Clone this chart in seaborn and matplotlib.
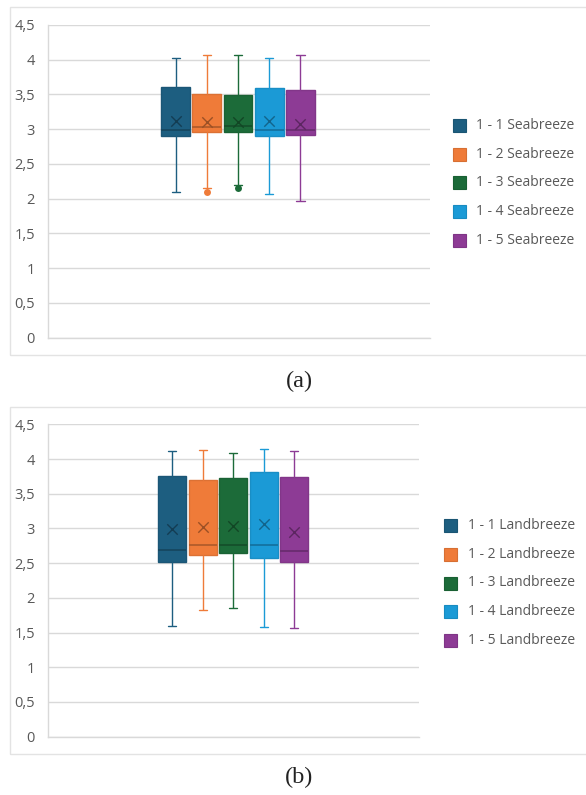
import numpy as np
import pandas as pd
import matplotlib
matplotlib.use("Agg")
import matplotlib.pyplot as plt
from matplotlib.patches import Rectangle
from matplotlib.colors import to_rgb
import seaborn as sns

# Series labels for the two panels
sea_names = ["1 - 1 Seabreeze", "1 - 2 Seabreeze", "1 - 3 Seabreeze",
             "1 - 4 Seabreeze", "1 - 5 Seabreeze"]
land_names = ["1 - 1 Landbreeze", "1 - 2 Landbreeze", "1 - 3 Landbreeze",
              "1 - 4 Landbreeze", "1 - 5 Landbreeze"]
series_colors = ["#1d5e80", "#ef7b39", "#1c6b39", "#1b9ad6", "#8d3b95"]

# Seabreeze summary statistics
sea_low = [2.09, 2.16, 2.20, 2.07, 1.97]
sea_q1 = [2.90, 2.96, 2.96, 2.90, 2.91]
sea_median = [2.99, 3.03, 3.04, 2.99, 2.99]
sea_q3 = [3.61, 3.51, 3.49, 3.60, 3.57]
sea_high = [4.02, 4.07, 4.07, 4.02, 4.07]
sea_mean = [3.12, 3.10, 3.10, 3.12, 3.08]
sea_outlier_series = ["1 - 2 Seabreeze", "1 - 3 Seabreeze"]
sea_outliers = [2.10, 2.15]

# Landbreeze summary statistics
land_low = [1.59, 1.83, 1.85, 1.58, 1.56]
land_q1 = [2.52, 2.62, 2.64, 2.57, 2.52]
land_median = [2.69, 2.76, 2.76, 2.76, 2.68]
land_q3 = [3.76, 3.70, 3.73, 3.81, 3.74]
land_high = [4.11, 4.13, 4.08, 4.15, 4.12]
land_mean = [2.99, 3.02, 3.04, 3.07, 2.95]
land_outlier_series = []
land_outliers = []

y_ticks = [0, 0.5, 1, 1.5, 2, 2.5, 3, 3.5, 4, 4.5]
y_tick_labels = ["0", "0,5", "1", "1,5", "2", "2,5", "3", "3,5", "4", "4,5"]

sns.set_style("white")
plt.rcParams["font.family"] = ["Open Sans", "DejaVu Sans"]

W, H = 586, 795
fig = plt.figure(figsize=(W / 100, H / 100), dpi=100)
fig.patch.set_facecolor("white")

GRID = "#d9d9d9"
TEXT = "#595959"


def shade(c, k):
    r, g, b = to_rgb(c)
    return (r * k, g * k, b * k)


def px_axes(left, right, top, bottom):
    return fig.add_axes([left / W, 1 - bottom / H, (right - left) / W, (bottom - top) / H])


def draw_panel(ax, names, low, q1, med, q3, high, mean, out_names, out_vals, xlim):
    five = np.column_stack([low, q1, med, q3, high]).ravel()
    df = pd.DataFrame({"series": np.repeat(names, 5), "value": five})
    for name, c in zip(names, series_colors):
        sub = df[df["series"] == name]
        sns.boxplot(data=sub, x="series", y="value", order=names, color=c,
                    saturation=1, width=0.92, whis=(0, 100), linewidth=1.0,
                    linecolor=c, showfliers=False, ax=ax,
                    boxprops=dict(edgecolor=shade(c, 0.92)),
                    medianprops=dict(color=shade(c, 0.75), linewidth=1.3),
                    capwidths=0.26)
    dark = {n: shade(c, 0.65) for n, c in zip(names, series_colors)}
    sns.stripplot(x=names, y=mean, hue=names, palette=dark, order=names,
                  jitter=False, marker="x", size=7.5, linewidth=1.0,
                  legend=False, ax=ax, zorder=5)
    if out_vals:
        pal = dict(zip(names, series_colors))
        sns.stripplot(x=out_names, y=out_vals, hue=out_names, palette=pal,
                      order=names, jitter=False, size=5, linewidth=0,
                      legend=False, ax=ax, zorder=5)
    ax.set_xlim(*xlim)
    ax.set_ylim(0, 4.5)
    ax.set_yticks(y_ticks)
    ax.set_yticklabels(y_tick_labels)
    ax.set_xticks([])
    ax.set_xlabel("")
    ax.set_ylabel("")
    ax.set_axisbelow(True)
    ax.yaxis.grid(True, color=GRID, linewidth=1.0)
    for s in ["top", "right"]:
        ax.spines[s].set_visible(False)
    for s in ["left", "bottom"]:
        ax.spines[s].set_color(GRID)
        ax.spines[s].set_linewidth(1.0)
    ax.tick_params(axis="y", direction="out", length=4.5, width=1.0,
                   color=GRID, labelcolor=TEXT, labelsize=10.5, pad=5)
    ax.set_facecolor("white")


def draw_legend(names, sq_x, txt_x, centers):
    for name, c, yc in zip(names, series_colors, centers):
        fig.add_artist(Rectangle((sq_x / W, 1 - (yc + 6.5) / H), 13 / W, 13 / H,
                                 transform=fig.transFigure, facecolor=c,
                                 edgecolor=shade(c, 0.9), linewidth=0.8))
        fig.text(txt_x / W, 1 - yc / H, name, color=TEXT, fontsize=10,
                 ha="left", va="center")


# Panel frames
for top, bottom in [(7, 355), (407, 754)]:
    fig.add_artist(Rectangle((10 / W, 1 - bottom / H), 580 / W, (bottom - top) / H,
                             transform=fig.transFigure, facecolor="none",
                             edgecolor="#e3e3e3", linewidth=1.0))

ax_sea = px_axes(48, 430, 25, 337.5)
draw_panel(ax_sea, sea_names, sea_low, sea_q1, sea_median, sea_q3, sea_high,
           sea_mean, sea_outlier_series, sea_outliers, (-4.09, 8.15))
draw_legend(sea_names, 452.5, 476, [125.5, 154.3, 182.8, 211.5, 240.5])

ax_land = px_axes(48, 419, 424.3, 736.7)
draw_panel(ax_land, land_names, land_low, land_q1, land_median, land_q3, land_high,
           land_mean, land_outlier_series, land_outliers, (-4.075, 8.09))
draw_legend(land_names, 443.5, 467.5, [525.5, 554, 583, 611.5, 640.5])

fig.text(299 / W, 1 - 381 / H, "(a)", family=["Liberation Serif", "DejaVu Serif"],
         fontsize=17.5, color="#222222", ha="center", va="center")
fig.text(299 / W, 1 - 777 / H, "(b)", family=["Liberation Serif", "DejaVu Serif"],
         fontsize=17.5, color="#222222", ha="center", va="center")

fig.savefig("out.png", dpi=100, facecolor="white")
